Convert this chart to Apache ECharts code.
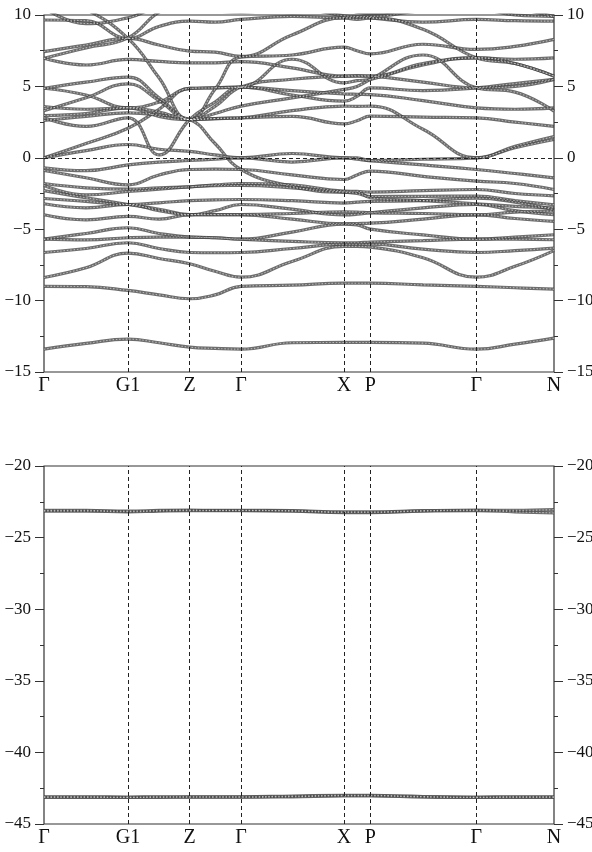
<!DOCTYPE html>
<html>
<head>
<meta charset="utf-8">
<script src="https://cdn.jsdelivr.net/npm/echarts@6/dist/echarts.min.js"></script>
<style>
  html, body { margin: 0; padding: 0; background: #fff; }
  #chart { width: 592px; height: 852px; }
</style>
</head>
<body>
<div id="chart"></div>
<script>
// k-path positions (path length units) of the sampled k-points
const kNodes = [0, 42, 84, 115, 145.7, 171, 197, 248, 300, 313, 326.4, 379, 432.4, 471, 510];
// high-symmetry points along the path
const kTicks = [0, 84, 145.7, 197, 300, 326.4, 432.4, 510];
const kTickNames = ['Γ', 'G1', 'Z', 'Γ', 'X', 'P', 'Γ', 'N'];

// energy ticks (eV)
const upperTicks = [-15, -10, -5, 0, 5, 10];
const lowerTicks = [-45, -40, -35, -30, -25, -20];

// bands in the -15 .. 10 eV window, one value per k-point
const band01 = [-13.4, -13.0, -12.7, -12.95, -13.26, -13.35, -13.4, -12.95, -12.93, -12.93, -12.93, -12.98, -13.4, -13.05, -12.63];
const band02 = [-9.0, -9.02, -9.29, -9.6, -9.87, -9.6, -9.0, -8.92, -8.78, -8.78, -8.78, -8.9, -9.0, -9.1, -9.2];
const band03 = [-8.38, -7.7, -6.68, -7.05, -7.42, -7.95, -8.36, -7.26, -6.2, -6.2, -6.25, -7.0, -8.36, -7.6, -6.5];
const band04 = [-6.63, -6.35, -5.95, -6.35, -6.63, -6.65, -6.63, -6.35, -6.05, -6.05, -6.05, -6.4, -6.63, -6.5, -6.32];
const band05 = [-5.7, -5.75, -5.6, -5.55, -5.55, -5.6, -5.7, -5.85, -5.95, -5.95, -5.9, -5.8, -5.7, -5.7, -5.74];
const band06 = [-5.7, -5.3, -4.9, -5.3, -5.55, -5.6, -5.7, -5.2, -4.65, -4.7, -5.0, -5.4, -5.7, -5.55, -5.39];
const band07 = [-3.99, -4.35, -4.1, -4.3, -3.99, -3.99, -3.99, -4.3, -4.62, -4.6, -4.58, -4.3, -3.99, -4.25, -4.45];
const band08 = [-3.22, -3.5, -3.27, -3.7, -3.99, -3.7, -3.27, -3.6, -3.99, -3.95, -3.85, -3.5, -3.27, -3.7, -3.99];
const band09 = [-2.85, -3.05, -3.27, -3.15, -3.0, -2.95, -2.92, -3.0, -3.17, -3.1, -3.05, -3.0, -2.82, -3.1, -3.64];
const band10 = [-1.94, -2.6, -2.36, -2.2, -2.03, -1.95, -1.94, -2.1, -2.4, -2.5, -2.71, -2.7, -2.68, -3.0, -3.29];
const band11 = [-1.8, -2.1, -2.2, -2.1, -2.03, -1.9, -1.8, -1.9, -2.33, -2.35, -2.4, -2.3, -2.22, -2.5, -2.66];
const band12 = [-0.89, -1.4, -1.9, -1.2, -0.82, -0.8, -0.82, -1.2, -1.52, -1.2, -0.93, -1.3, -1.63, -1.8, -2.22];
const band13 = [-0.7, -0.9, -0.5, -0.3, -0.19, -0.1, 0.0, -0.3, 0.0, -0.1, -0.2, -0.5, -0.82, -1.1, -1.4];
const band14 = [0.0, 0.5, 0.93, 0.6, 0.45, 0.2, 0.0, 0.3, 0.0, 0.0, -0.2, -0.1, 0.0, 0.7, 1.28];
const band15 = [0.0, 1.0, 2.07, 3.4, 4.86, 4.9, 4.95, 4.4, 3.97, 4.3, 4.9, 4.7, 4.9, 5.2, 5.49];
const band16 = [2.61, 2.9, 3.15, 3.0, 2.68, 1.0, -0.82, -2.0, -2.4, -2.4, -2.8, -3.0, -3.22, -3.4, -3.5];
const band17 = [2.96, 3.1, 3.5, 3.2, 2.68, 2.75, 2.8, 2.9, 2.38, 2.6, 2.92, 2.85, 2.8, 2.5, 2.2];
const band18 = [3.59, 3.4, 3.5, 2.9, 2.68, 2.75, 2.8, 3.3, 3.62, 3.6, 3.62, 2.0, 0.0, 0.8, 1.49];
const band19 = [2.8, 2.2, 2.8, 0.2, 2.68, 3.9, 4.95, 4.7, 4.48, 4.45, 4.43, 4.0, 3.5, 3.4, 3.5];
const band20 = [4.87, 5.3, 5.65, 4.2, 2.68, 4.8, 7.05, 7.2, 7.75, 7.5, 7.28, 7.95, 7.59, 7.8, 8.29];
const band21 = [4.87, 4.4, 3.5, 3.9, 4.86, 4.9, 4.95, 6.9, 5.25, 5.4, 5.49, 6.5, 7.0, 6.6, 5.72];
const band22 = [6.97, 6.5, 6.89, 6.75, 6.65, 6.65, 6.74, 6.3, 5.72, 5.72, 5.72, 6.6, 7.0, 6.9, 7.0];
const band23 = [7.44, 7.9, 8.36, 7.9, 7.47, 7.4, 7.1, 8.6, 9.8, 9.7, 9.8, 9.0, 7.0, 6.6, 5.72];
const band24 = [9.65, 9.6, 8.36, 9.2, 9.57, 9.5, 9.69, 9.9, 9.8, 9.85, 9.8, 9.5, 9.69, 9.6, 9.57];
const band25 = [10.5, 9.4, 9.8, 10.5, 10.6, 10.3, 10.2, 10.5, 9.95, 9.9, 9.9, 10.3, 10.4, 10.0, 9.9];
const band26 = [6.97, 7.7, 8.4, 10.2, 11.0, 11.0, 11.0, 11.0, 10.5, 10.2, 10.1, 10.6, 11.0, 10.5, 9.9];
const band27 = [3.3, 4.2, 5.18, 4.0, 2.68, 3.1, 3.62, 4.2, 4.79, 5.0, 5.49, 7.2, 4.9, 4.6, 3.27];
const band28 = [11.5, 10.4, 8.36, 5.6, 2.68, 3.6, 4.95, 5.5, 5.72, 5.75, 5.72, 5.3, 4.9, 5.0, 5.49];
const band29 = [-2.3, -2.8, -3.27, -3.6, -3.97, -3.97, -3.97, -3.9, -3.78, -3.8, -3.85, -3.9, -3.99, -3.8, -3.73];

// semicore bands in the -45 .. -20 eV window
const band30 = [-23.1, -23.1, -23.15, -23.1, -23.08, -23.1, -23.1, -23.12, -23.2, -23.2, -23.2, -23.12, -23.08, -23.1, -23.05];
const band31 = [-23.15, -23.15, -23.2, -23.15, -23.12, -23.12, -23.12, -23.15, -23.25, -23.25, -23.25, -23.15, -23.12, -23.2, -23.28];
const band32 = [-43.1, -43.1, -43.12, -43.1, -43.1, -43.1, -43.1, -43.05, -43.0, -43.0, -43.0, -43.08, -43.12, -43.1, -43.1];
const band33 = [-43.14, -43.14, -43.15, -43.14, -43.13, -43.13, -43.13, -43.1, -43.04, -43.04, -43.04, -43.12, -43.15, -43.14, -43.14];

const upperBands = [band01, band02, band03, band04, band05, band06, band07, band08, band09,
  band10, band11, band12, band13, band14, band15, band16, band17, band18, band19, band20,
  band21, band22, band23, band24, band25, band26, band27, band28, band29];
const lowerBands = [band30, band31, band32, band33];

const serif = 'Liberation Serif';
const minus = v => String(v).replace('-', '\u2212');

function energyAxes(gridIndex, min, max) {
  const common = {
    type: 'value', gridIndex, min, max, interval: 5,
    axisLine: { show: false },
    splitLine: { show: false },
    axisTick: { show: true, length: 9, lineStyle: { color: '#333', width: 1 } },
    minorTick: { show: true, splitNumber: 2, length: 4, lineStyle: { color: '#333', width: 1 } },
    minorSplitLine: { show: false },
    axisLabel: { color: '#111', fontFamily: serif, fontSize: 17, margin: 13, formatter: minus }
  };
  return [
    Object.assign({}, common, { position: 'left' }),
    Object.assign({}, common, { position: 'right' })
  ];
}

function pathAxis(gridIndex) {
  return {
    type: 'value', gridIndex, min: 0, max: 510,
    axisLine: { show: false },
    axisTick: { show: false },
    splitLine: { show: false },
    axisLabel: {
      customValues: kTicks,
      color: '#111', fontFamily: serif, fontSize: 20, margin: 4,
      formatter: v => kTickNames[kTicks.indexOf(v)]
    }
  };
}

// each band is a grey bead-like trace: a dark stroke with a light dotted core
const outerStyle = { color: '#444444', width: 3.2, opacity: 0.78 };
const innerStyle = { color: '#ffffff', width: 1.1, opacity: 0.5, type: [1.5, 1.8] };

function bandSeries(bands, gridIndex, markData) {
  const out = [];
  bands.forEach((b, i) => {
    const data = b.map((e, j) => [kNodes[j], e]);
    const base = {
      type: 'line',
      xAxisIndex: gridIndex,
      yAxisIndex: gridIndex * 2,
      data,
      smooth: 0.45,
      showSymbol: false,
      symbol: 'none',
      clip: true,
      silent: true
    };
    const outer = Object.assign({}, base, { lineStyle: outerStyle, z: 2 });
    if (i === 0) {
      outer.markLine = {
        silent: true, symbol: 'none', animation: false,
        label: { show: false },
        lineStyle: { type: [4, 3], color: '#222', width: 1, opacity: 1 },
        data: markData
      };
    }
    out.push(outer);
    out.push(Object.assign({}, base, { lineStyle: innerStyle, z: 3 }));
  });
  return out;
}

const symmetryLines = kTicks.slice(1, -1).map(k => ({ xAxis: k }));

const gridBase = {
  left: 44, right: 38, show: true, borderColor: '#333', borderWidth: 1.2,
  backgroundColor: 'transparent', containLabel: false, outerBoundsMode: 'none'
};

const chart = echarts.init(document.getElementById('chart'), null, { renderer: 'canvas' });
chart.setOption({
  animation: false,
  backgroundColor: '#fff',
  grid: [
    Object.assign({}, gridBase, { top: 15, height: 357 }),
    Object.assign({}, gridBase, { top: 466, height: 358 })
  ],
  xAxis: [pathAxis(0), pathAxis(1)],
  yAxis: [].concat(energyAxes(0, -15, 10), energyAxes(1, -45, -20)),
  series: [].concat(
    bandSeries(upperBands, 0, symmetryLines.concat([{ yAxis: 0 }])),
    bandSeries(lowerBands, 1, symmetryLines)
  )
});
</script>
</body>
</html>
